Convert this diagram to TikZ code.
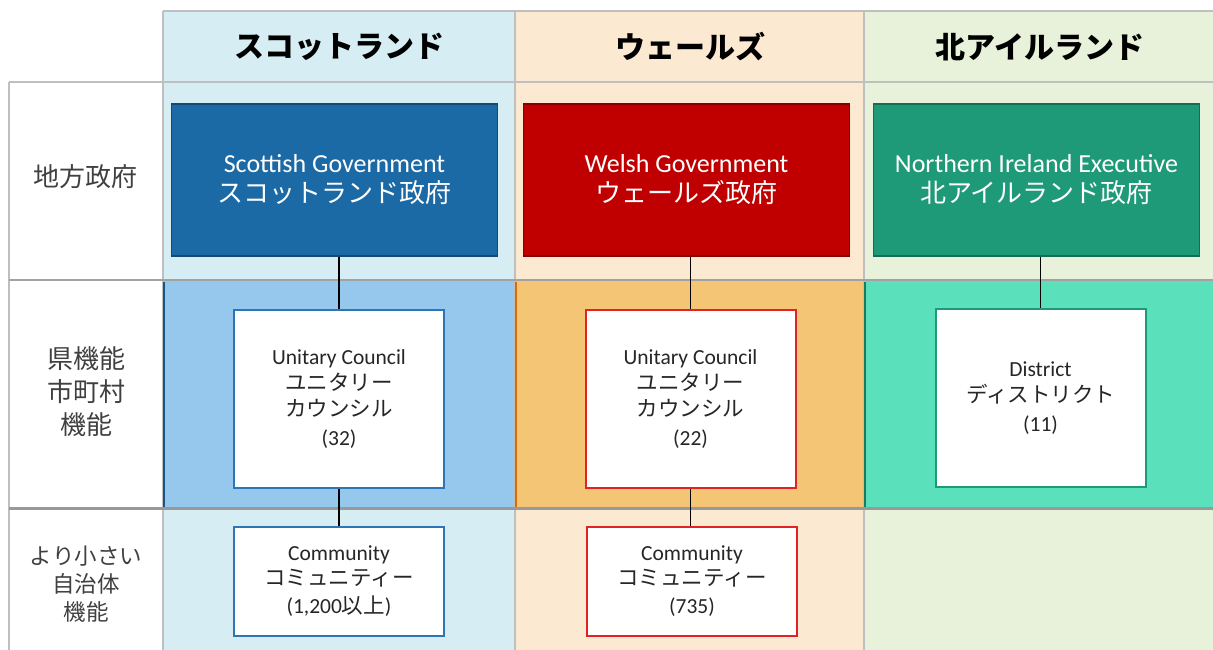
\documentclass[tikz,border=0pt]{standalone}
\usepackage{fontspec}
\setmainfont{Carlito}
\newfontfamily\jp{Noto Sans CJK JP}
\definecolor{scL}{HTML}{D6EDF3}
\definecolor{waL}{HTML}{FCE9D1}
\definecolor{niL}{HTML}{E8F1DA}
\definecolor{scM}{HTML}{95C8EC}
\definecolor{waM}{HTML}{F5C576}
\definecolor{niM}{HTML}{5BE0BC}
\definecolor{scD}{HTML}{1B6AA5}
\definecolor{waD}{HTML}{C00000}
\definecolor{niD}{HTML}{1F9A78}
\definecolor{scB}{HTML}{2E75B6}
\definecolor{waB}{HTML}{E02424}
\definecolor{grid}{HTML}{BFBFBF}
\definecolor{txt}{HTML}{262626}
\definecolor{lbl}{HTML}{404040}
\tikzset{
  gov/.style={draw=#1!70!black, fill=#1, line width=1.5pt, minimum width=326pt, minimum height=152pt, text=white, align=center, inner sep=0pt, font=\fontsize{26}{30}\selectfont},
  unit/.style={draw=#1, fill=white, line width=2pt, minimum width=210pt, minimum height=178pt, text=txt, align=center, inner sep=0pt, font=\fontsize{21.5}{26}\selectfont},
  comm/.style={draw=#1, fill=white, line width=2pt, minimum width=210pt, minimum height=109pt, text=txt, align=center, inner sep=0pt, font=\fontsize{21.5}{25}\selectfont},
  hdr/.style={text=black, font=\jp\bfseries\fontsize{30}{32}\selectfont},
  rowlbl/.style={text=lbl, align=center},
  link/.style={draw=black, line width=1.5pt},
  gridline/.style={draw=grid, line width=2.5pt}
}
\begin{document}
\begin{tikzpicture}[x=1pt,y=-1pt]
\useasboundingbox (0,0) rectangle (1213,649);
\clip (0,0) rectangle (1213,649);
% backgrounds
\fill[scL] (163,11) rectangle (515,280);
\fill[waL] (515,11) rectangle (864,280);
\fill[niL] (864,11) rectangle (1216,280);
\fill[scM] (163,280) rectangle (515,508);
\fill[waM] (515,280) rectangle (864,508);
\fill[niM] (864,280) rectangle (1216,508);
\fill[scL] (163,508) rectangle (515,652);
\fill[waL] (515,508) rectangle (864,652);
\fill[niL] (864,508) rectangle (1216,652);
% grid
\draw[gridline] (163,11) -- (1216,11);
\draw[gridline] (9,82) -- (1216,82);
\draw[gridline] (9,82) -- (9,652);
\draw[gridline] (163,11) -- (163,652);
\draw[gridline] (515,11) -- (515,652);
\draw[gridline] (864,11) -- (864,652);
\draw[draw=grid!85!black, line width=2.5pt] (9,280) -- (1216,280);
\draw[draw=grid!80!black, line width=3pt] (9,508) -- (1216,508);
\draw[draw=scD!80!black, line width=1.5pt] (164,281.5) -- (164,506.5);
\draw[draw=orange!85!black, line width=1.5pt] (516,281.5) -- (516,506.5);
\draw[draw=niD!80!black, line width=1.5pt] (865,281.5) -- (865,506.5);
% headers
\node[hdr] (hsc) at (339,47) {スコットランド};
\node[hdr] (hwa) at (690,47) {ウェールズ};
\node[hdr] (hni) at (1040,47) {北アイルランド};
% row labels
\node[rowlbl, font=\jp\fontsize{26}{33}\selectfont] (r1) at (86,177) {地方政府};
\node[rowlbl, font=\jp\fontsize{26}{33}\selectfont] (r2) at (86,392) {県機能\\市町村\\機能};
\node[rowlbl, font=\jp\fontsize{22.5}{28}\selectfont] (r3) at (86,584) {より小さい\\自治体\\機能};
% government boxes
\node[gov=scD] (scg) at (334.5,180) {Scottish Government\\{\jp スコットランド政府}};
\node[gov=waD] (wag) at (686.5,180) {Welsh Government\\{\jp ウェールズ政府}};
\node[gov=niD] (nig) at (1036.5,180) {Northern Ireland Executive\\{\jp 北アイルランド政府}};
% unitary / district
\node[unit=scB] (scu) at (339,399) {Unitary Council\\{\jp ユニタリー}\\{\jp カウンシル}\\[3pt](32)};
\node[unit=waB] (wau) at (690.5,399) {Unitary Council\\{\jp ユニタリー}\\{\jp カウンシル}\\[3pt](22)};
\node[unit=niD] (niu) at (1040.5,398) {District\\{\jp ディストリクト}\\[3pt](11)};
% community
\node[comm=scB] (scc) at (339,581.5) {Community\\{\jp コミュニティー}\\[3pt](1,200{\jp 以上})};
\node[comm=waB] (wac) at (692,581.5) {Community\\{\jp コミュニティー}\\[3pt](735)};
% connectors
\draw[link] (scg.south -| scu.north) -- (scu.north);
\draw[link] (wag.south -| wau.north) -- (wau.north);
\draw[link] (nig.south -| niu.north) -- (niu.north);
\draw[link] (scu.south) -- (scu.south |- scc.north);
\draw[link] (wau.south) -- (wau.south |- wac.north);
\end{tikzpicture}
\end{document}
